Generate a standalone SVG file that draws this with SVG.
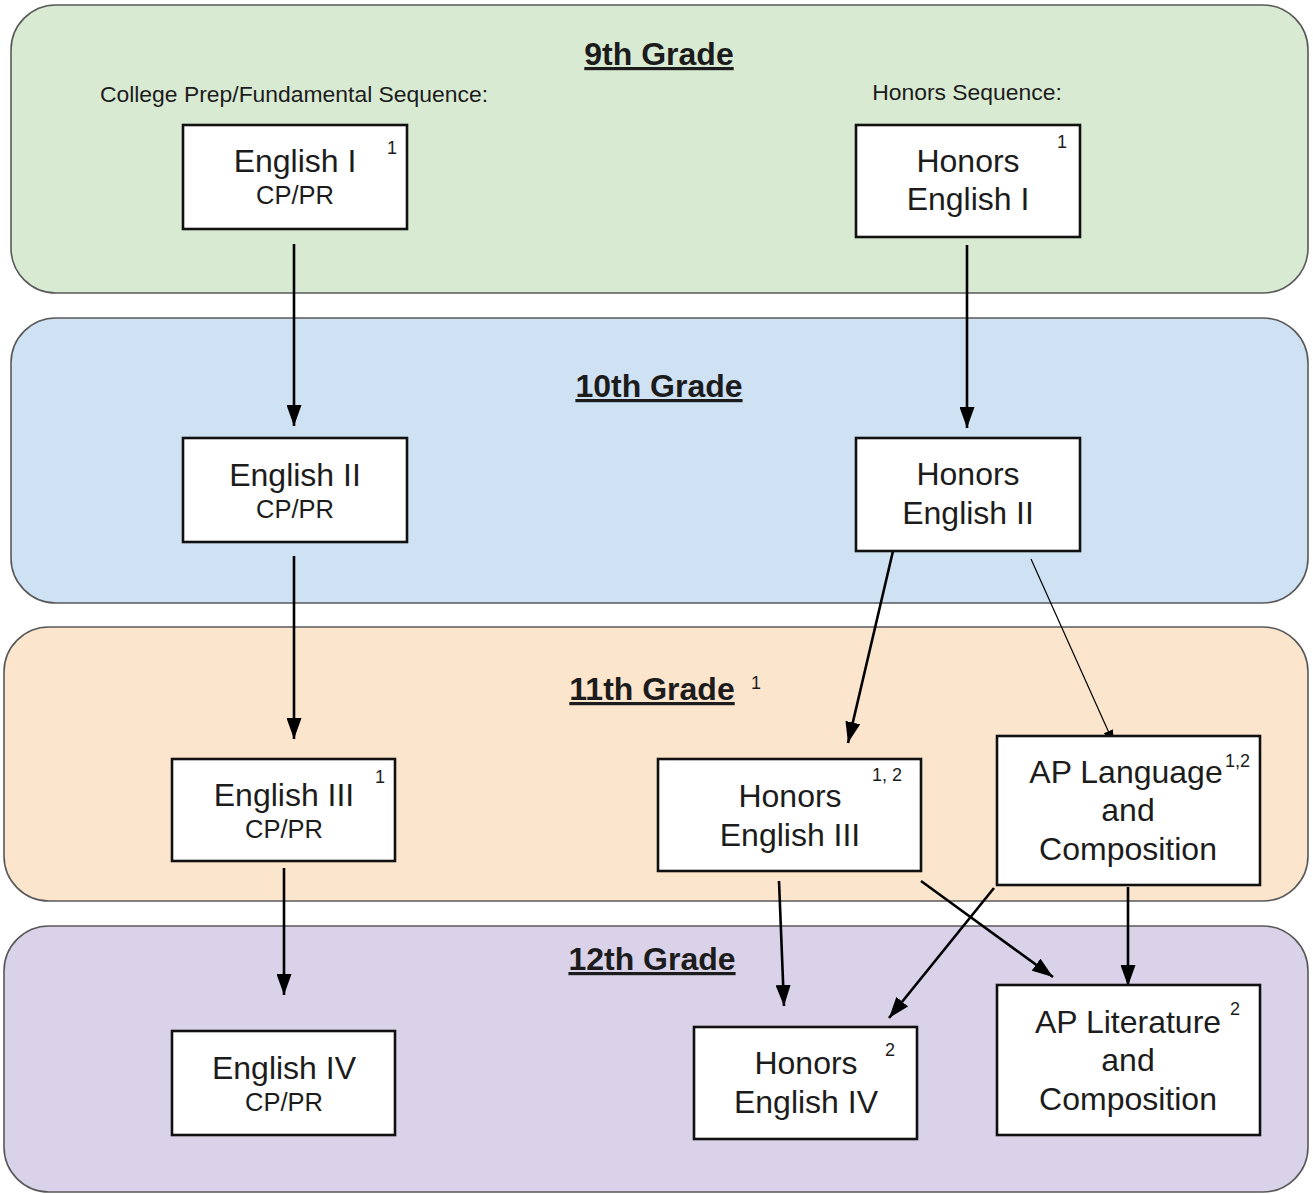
<svg xmlns="http://www.w3.org/2000/svg" width="1313" height="1194" viewBox="0 0 1313 1194">
<style>
.band{stroke:#595959;stroke-width:1.6}
.box{fill:#fff;stroke:#111;stroke-width:2.6}
.t{font-family:"Liberation Sans",Arial,sans-serif;fill:#1c1c1c;text-anchor:middle}
.n{font-size:32px}
.s{font-size:25.5px}
.sup{font-size:18px;font-family:"Liberation Sans",Arial,sans-serif;fill:#1c1c1c}
.title{font-size:32px;font-weight:bold;text-decoration:underline}
.seq{font-size:22.9px}
.c{stroke:#000;stroke-width:2.6;fill:none}
.thin{stroke:#000;stroke-width:1.2;fill:none}
</style>
<defs>
<marker id="ah" markerUnits="userSpaceOnUse" markerWidth="21" markerHeight="15" refX="21" refY="7.5" orient="auto">
<path d="M0,0 L21,7.5 L0,15 z" fill="#000"/>
</marker>
<marker id="ahs" markerUnits="userSpaceOnUse" markerWidth="14" markerHeight="10" refX="14" refY="5" orient="auto">
<path d="M0,0 L14,5 L0,10 z" fill="#000"/>
</marker>
</defs>
<rect width="1313" height="1194" fill="#fff"/>
<g id="band9">
<rect class="band" x="11" y="5" width="1297" height="288" rx="45" fill="#d9ead3"/>
<text class="t title" x="659" y="65">9th Grade</text>
<text class="t seq" x="294" y="102">College Prep/Fundamental Sequence:</text>
<text class="t seq" x="967" y="100">Honors Sequence:</text>
</g>
<g id="band10">
<rect class="band" x="11" y="318" width="1297" height="285" rx="45" fill="#cfe2f3"/>
<text class="t title" x="659" y="397">10th Grade</text>
</g>
<g id="band11">
<rect class="band" x="4" y="627" width="1304" height="274" rx="45" fill="#fce5cd"/>
<text class="t title" x="652" y="700">11th Grade</text>
<text class="sup" x="751" y="689">1</text>
</g>
<g id="band12">
<rect class="band" x="4" y="926" width="1304" height="266" rx="45" fill="#d9d2e9"/>
<text class="t title" x="652" y="970">12th Grade</text>
</g>
<g id="connectors">
<line class="c" x1="294" y1="244" x2="294" y2="426" marker-end="url(#ah)"/>
<line class="c" x1="967" y1="245" x2="967" y2="428" marker-end="url(#ah)"/>
<line class="c" x1="294" y1="556" x2="294" y2="739" marker-end="url(#ah)"/>
<line class="c" x1="893" y1="551" x2="848" y2="743" marker-end="url(#ah)"/>
<line class="thin" x1="1031" y1="559" x2="1114" y2="744" marker-end="url(#ahs)"/>
<line class="c" x1="284" y1="868" x2="284" y2="995" marker-end="url(#ah)"/>
<line class="c" x1="779" y1="881" x2="784" y2="1006" marker-end="url(#ah)"/>
<line class="c" x1="921" y1="881" x2="1053" y2="977" marker-end="url(#ah)"/>
<line class="c" x1="994" y1="888" x2="889" y2="1018" marker-end="url(#ah)"/>
<line class="c" x1="1128" y1="887" x2="1128" y2="986" marker-end="url(#ah)"/>
</g>
<g id="english1">
<rect class="box" x="183" y="125" width="224" height="104"/>
<text class="t n" x="295" y="172">English I</text>
<text class="t s" x="295" y="204">CP/PR</text>
<text class="sup" x="387" y="154">1</text>
</g>
<g id="honors1">
<rect class="box" x="856" y="125" width="224" height="112"/>
<text class="t n" x="968" y="172">Honors</text>
<text class="t n" x="968" y="210">English I</text>
<text class="sup" x="1057" y="148">1</text>
</g>
<g id="english2">
<rect class="box" x="183" y="438" width="224" height="104"/>
<text class="t n" x="295" y="486">English II</text>
<text class="t s" x="295" y="518">CP/PR</text>
</g>
<g id="honors2">
<rect class="box" x="856" y="438" width="224" height="113"/>
<text class="t n" x="968" y="485">Honors</text>
<text class="t n" x="968" y="524">English II</text>
</g>
<g id="english3">
<rect class="box" x="172" y="759" width="223" height="102"/>
<text class="t n" x="284" y="806">English III</text>
<text class="t s" x="284" y="838">CP/PR</text>
<text class="sup" x="375" y="783">1</text>
</g>
<g id="honors3">
<rect class="box" x="658" y="759" width="263" height="112"/>
<text class="t n" x="790" y="807">Honors</text>
<text class="t n" x="790" y="846">English III</text>
<text class="sup" x="872" y="781">1, 2</text>
</g>
<g id="aplang">
<rect class="box" x="997" y="736" width="263" height="149"/>
<text class="t n" x="1126" y="783">AP Language</text>
<text class="t n" x="1128" y="821">and</text>
<text class="t n" x="1128" y="860">Composition</text>
<text class="sup" x="1225" y="767">1,2</text>
</g>
<g id="english4">
<rect class="box" x="172" y="1031" width="223" height="104"/>
<text class="t n" x="284" y="1079">English IV</text>
<text class="t s" x="284" y="1111">CP/PR</text>
</g>
<g id="honors4">
<rect class="box" x="694" y="1027" width="223" height="112"/>
<text class="t n" x="806" y="1074">Honors</text>
<text class="t n" x="806" y="1113">English IV</text>
<text class="sup" x="885" y="1056">2</text>
</g>
<g id="aplit">
<rect class="box" x="997" y="985" width="263" height="150"/>
<text class="t n" x="1128" y="1033">AP Literature</text>
<text class="t n" x="1128" y="1071">and</text>
<text class="t n" x="1128" y="1110">Composition</text>
<text class="sup" x="1230" y="1015">2</text>
</g>
</svg>
